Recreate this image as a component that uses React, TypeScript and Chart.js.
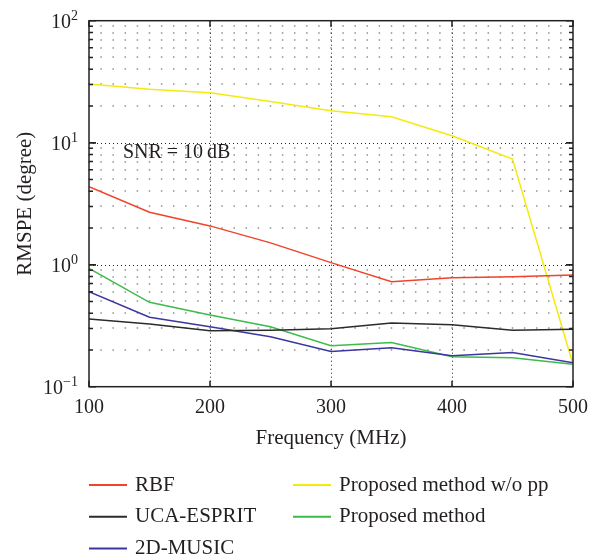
import React, { useEffect, useRef } from 'react';
import { Chart, registerables } from 'chart.js';

Chart.register(...registerables);

// ---- data ----
const frequencies = [100, 150, 200, 250, 300, 350, 400, 450, 500];
const rbf = [4.36, 2.69, 2.08, 1.51, 1.04, 0.726, 0.782, 0.797, 0.824];
const ucaEsprit = [0.359, 0.327, 0.288, 0.29, 0.299, 0.333, 0.322, 0.29, 0.296];
const music2d = [0.601, 0.371, 0.31, 0.257, 0.194, 0.209, 0.179, 0.191, 0.157];
const proposedNoPP = [30.3, 27.4, 25.7, 21.8, 18.3, 16.3, 11.4, 7.35, 0.152];
const proposed = [0.934, 0.492, 0.387, 0.31, 0.217, 0.23, 0.176, 0.173, 0.153];

const seriesLabels = ['RBF', 'UCA-ESPRIT', '2D-MUSIC', 'Proposed method w/o pp', 'Proposed method'];
const seriesValues = [rbf, ucaEsprit, music2d, proposedNoPP, proposed];
const seriesColors = ['#f0432a', '#2b2b2b', '#3c36a0', '#f5ea10', '#3dbb4c'];

const xTicks = [100, 200, 300, 400, 500];
const yDecadeExponents = [-1, 0, 1, 2];
const xTitle = 'Frequency (MHz)';
const yTitle = 'RMSPE (degree)';
const annotationText = 'SNR = 10\u2009dB';
const annotationX = 128;
const annotationY = 8.3;

const FONT = '"Liberation Serif", "Times New Roman", serif';
const TEXT = '#231f20';

const decorPlugin = {
  id: 'decor',
  beforeDatasetsDraw(chart: any) {
    const { ctx, chartArea, scales } = chart;
    const { left, right, top, bottom } = chartArea;
    const x = scales.x;
    const y = scales.y;
    ctx.save();
    // minor horizontal grid (dots every 10 MHz)
    const period = x.getPixelForValue(110) - x.getPixelForValue(100);
    ctx.strokeStyle = '#8f8f8f';
    ctx.lineWidth = 1.5;
    ctx.setLineDash([1.5, period - 1.5]);
    for (let e = -1; e <= 1; e++) {
      for (let m = 2; m <= 9; m++) {
        const py = Math.round(y.getPixelForValue(m * Math.pow(10, e)));
        ctx.beginPath();
        ctx.moveTo(left - 0.75, py);
        ctx.lineTo(right, py);
        ctx.stroke();
      }
    }
    // major grid
    ctx.strokeStyle = '#222';
    ctx.lineWidth = 1;
    ctx.setLineDash([1, 3]);
    for (const e of [0, 1]) {
      const py = Math.round(y.getPixelForValue(Math.pow(10, e))) + 0.5;
      ctx.beginPath();
      ctx.moveTo(left, py);
      ctx.lineTo(right, py);
      ctx.stroke();
    }
    for (const v of xTicks.slice(1, -1)) {
      const px = Math.round(x.getPixelForValue(v)) + 0.5;
      ctx.beginPath();
      ctx.moveTo(px, top);
      ctx.lineTo(px, bottom);
      ctx.stroke();
    }
    ctx.restore();
  },
  afterDatasetsDraw(chart: any) {
    const { ctx, chartArea, scales } = chart;
    const { left, right, top, bottom } = chartArea;
    const x = scales.x;
    const y = scales.y;
    ctx.save();
    ctx.setLineDash([]);
    ctx.strokeStyle = '#222';
    ctx.lineWidth = 1.5;
    ctx.strokeRect(left, top, right - left, bottom - top);
    // y ticks (inner, both sides)
    ctx.lineWidth = 1.5;
    for (let e = -1; e <= 1; e++) {
      for (let m = 1; m <= 10; m++) {
        const py = y.getPixelForValue(m * Math.pow(10, e));
        const len = m === 1 || m === 10 ? 7 : 4;
        ctx.beginPath();
        ctx.moveTo(left, py);
        ctx.lineTo(left + len, py);
        ctx.moveTo(right, py);
        ctx.lineTo(right - len, py);
        ctx.stroke();
      }
    }
    // x ticks (inner, top & bottom)
    for (const v of xTicks) {
      const px = x.getPixelForValue(v);
      ctx.beginPath();
      ctx.moveTo(px, top);
      ctx.lineTo(px, top + 6);
      ctx.moveTo(px, bottom);
      ctx.lineTo(px, bottom - 6);
      ctx.stroke();
    }
    // y tick labels with superscript exponents
    ctx.fillStyle = TEXT;
    ctx.textBaseline = 'alphabetic';
    ctx.textAlign = 'left';
    const labelRight = left - 11;
    for (const e of yDecadeExponents) {
      const py = y.getPixelForValue(Math.pow(10, e));
      const expText = e < 0 ? '\u2212' + Math.abs(e) : String(e);
      ctx.font = `14px ${FONT}`;
      const ew = ctx.measureText(expText).width;
      ctx.font = `20px ${FONT}`;
      const bw = ctx.measureText('10').width;
      const bx = labelRight - ew - bw;
      ctx.fillText('10', bx, py + 7);
      ctx.font = `14px ${FONT}`;
      ctx.fillText(expText, bx + bw, py - 1);
    }
    // annotation
    ctx.font = `20px ${FONT}`;
    ctx.textBaseline = 'middle';
    ctx.fillText(annotationText, x.getPixelForValue(annotationX), y.getPixelForValue(annotationY));
    ctx.restore();
  },
  afterDraw(chart: any) {
    const { ctx } = chart;
    ctx.save();
    ctx.font = `21px ${FONT}`;
    ctx.textBaseline = 'middle';
    ctx.textAlign = 'left';
    chart.data.datasets.forEach((ds: any, i: number) => {
      const col = i < 3 ? 0 : 1;
      const row = i < 3 ? i : i - 3;
      const lx = col === 0 ? 89 : 293;
      const ly = 485 + row * 31.7;
      ctx.strokeStyle = ds.borderColor;
      ctx.lineWidth = 2;
      ctx.beginPath();
      ctx.moveTo(lx, ly);
      ctx.lineTo(lx + 38, ly);
      ctx.stroke();
      ctx.fillStyle = TEXT;
      ctx.fillText(ds.label, lx + 46, ly);
    });
    ctx.restore();
  },
};

export default function App() {
  const ref = useRef<HTMLCanvasElement>(null);
  useEffect(() => {
    if (!ref.current) return;
    const chart = new Chart(ref.current, {
      type: 'line',
      data: {
        datasets: seriesLabels.map((label, i) => ({
          label,
          data: frequencies.map((f, j) => ({ x: f, y: seriesValues[i][j] })),
          borderColor: seriesColors[i],
          backgroundColor: seriesColors[i],
          borderWidth: 1.5,
          pointRadius: 0,
          fill: false,
          tension: 0,
        })),
      },
      options: {
        animation: false,
        responsive: false,
        maintainAspectRatio: false,
        events: [],
        layout: { padding: { left: 0, right: 29, top: 20.7, bottom: 108.4 } },
        plugins: { legend: { display: false }, tooltip: { enabled: false } },
        scales: {
          x: {
            type: 'linear',
            min: 100,
            max: 500,
            afterBuildTicks: (s: any) => {
              s.ticks = xTicks.map((v) => ({ value: v }));
            },
            grid: { display: false, drawTicks: false },
            border: { display: false },
            ticks: {
              font: { family: FONT, size: 20 },
              color: TEXT,
              padding: 9,
              maxRotation: 0,
              autoSkip: false,
            },
            title: {
              display: true,
              text: xTitle,
              font: { family: FONT, size: 21 },
              color: TEXT,
              padding: 0,
            },
            afterFit: (s: any) => {
              s.height = 63.9;
            },
          },
          y: {
            type: 'logarithmic',
            min: 0.1,
            max: 100,
            grid: { display: false, drawTicks: false },
            border: { display: false },
            ticks: { display: false },
            title: {
              display: true,
              text: yTitle,
              font: { family: FONT, size: 21 },
              color: TEXT,
              padding: { top: 12.4, bottom: 0 },
            },
            afterFit: (s: any) => {
              s.width = 89;
            },
          },
        },
      } as any,
      plugins: [decorPlugin],
    });
    return () => chart.destroy();
  }, []);
  return (
    <div style={{ position: 'absolute', left: 0, top: 0, width: 602, height: 559, background: '#fff' }}>
      <canvas ref={ref} width={602} height={559} style={{ display: 'block', width: 602, height: 559 }} />
    </div>
  );
}
